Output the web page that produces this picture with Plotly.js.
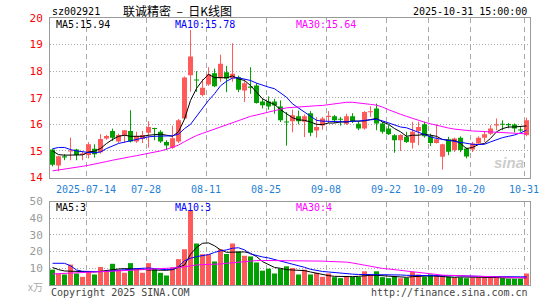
<!DOCTYPE html>
<html>
<head>
<meta charset="utf-8">
<script src="https://cdn.plot.ly/plotly-3.0.1.min.js"></script>
<style>html,body{margin:0;padding:0;background:#fff;}#chart{width:545px;height:300px;}</style>
</head>
<body>
<div id="chart"></div>
<script>
const dates = [
'2025-07-04','2025-07-07','2025-07-08','2025-07-09','2025-07-10','2025-07-11',
'2025-07-14','2025-07-15','2025-07-16','2025-07-17','2025-07-18',
'2025-07-21','2025-07-22','2025-07-23','2025-07-24','2025-07-25',
'2025-07-28','2025-07-29','2025-07-30','2025-07-31','2025-08-01',
'2025-08-04','2025-08-05','2025-08-06','2025-08-07','2025-08-08',
'2025-08-11','2025-08-12','2025-08-13','2025-08-14','2025-08-15',
'2025-08-18','2025-08-19','2025-08-20','2025-08-21','2025-08-22',
'2025-08-25','2025-08-26','2025-08-27','2025-08-28','2025-08-29',
'2025-09-01','2025-09-02','2025-09-03','2025-09-04','2025-09-05',
'2025-09-08','2025-09-09','2025-09-10','2025-09-11','2025-09-12',
'2025-09-15','2025-09-16','2025-09-17','2025-09-18','2025-09-19',
'2025-09-22','2025-09-23','2025-09-24','2025-09-25','2025-09-26',
'2025-09-29','2025-09-30',
'2025-10-09','2025-10-10','2025-10-13','2025-10-14','2025-10-15','2025-10-16','2025-10-17',
'2025-10-20','2025-10-21','2025-10-22','2025-10-23','2025-10-24',
'2025-10-27','2025-10-28','2025-10-29','2025-10-30','2025-10-31'];

const openP = [15.05,14.45,14.80,14.98,15.05,14.85,14.85,15.08,14.95,15.47,
 15.75,15.35,15.60,15.75,15.35,15.45,15.68,15.85,15.72,15.34,
 15.12,15.35,16.22,17.85,17.68,17.10,17.50,17.92,17.73,17.96,
 17.73,17.77,17.27,17.42,17.46,16.86,16.86,16.86,16.67,16.10,
 16.12,16.30,16.10,16.42,15.77,15.96,16.28,16.30,16.20,16.02,
 16.30,16.02,15.84,16.45,16.60,16.03,15.84,15.59,15.40,15.53,
 15.31,15.75,16.00,15.55,15.30,14.78,15.43,15.03,15.50,15.09,
 15.05,15.28,15.50,15.65,15.96,16.00,15.99,15.99,15.80,15.60];
const highP = [15.08,14.81,14.88,15.50,15.08,15.00,15.33,15.25,15.63,15.60,
 15.84,15.65,15.78,16.53,15.72,15.75,16.12,15.87,15.78,15.40,
 15.95,16.20,17.80,19.55,18.00,17.70,18.15,18.10,18.62,18.20,
 19.05,17.83,17.70,18.15,17.55,16.96,17.05,16.96,16.90,16.46,
 16.55,16.52,16.37,16.50,16.27,16.28,16.50,16.35,16.28,16.40,
 16.42,16.12,16.50,16.68,16.78,16.09,15.97,15.63,15.63,15.72,
 16.09,16.10,16.10,15.65,16.00,15.27,15.53,15.50,15.55,15.13,
 15.34,15.55,15.75,15.97,16.22,16.15,16.05,16.03,15.90,16.25];
const lowP = [14.42,14.23,14.65,14.65,14.65,14.65,14.72,14.75,14.90,15.42,
 15.37,15.30,15.30,15.32,15.30,15.30,15.12,15.40,15.30,15.03,
 15.08,15.30,16.20,17.23,17.22,17.05,17.45,17.40,17.60,17.21,
 17.60,17.21,16.84,17.15,16.78,16.60,16.55,16.40,16.09,15.20,
 15.70,16.00,15.52,15.55,15.50,15.80,16.05,16.05,15.95,15.98,
 16.05,15.78,15.80,16.28,15.78,15.65,15.60,14.93,15.00,15.30,
 15.09,15.21,15.50,15.18,15.28,14.30,14.84,14.96,14.95,14.72,
 14.96,15.22,15.33,15.60,15.78,15.78,15.85,15.70,15.72,15.55];
const closeP = [14.48,14.80,14.75,15.02,14.85,14.90,15.25,14.87,15.45,15.56,
 15.50,15.60,15.78,15.35,15.55,15.60,15.90,15.82,15.35,15.20,
 15.48,16.15,17.76,18.55,17.65,17.38,17.88,17.43,18.28,17.72,
 17.90,17.30,17.55,17.38,16.80,16.72,16.67,16.71,16.15,16.07,
 16.34,16.12,16.30,15.68,15.90,16.22,16.32,16.15,16.17,16.30,
 16.12,15.84,16.46,16.48,16.03,15.72,15.63,15.40,15.60,15.34,
 15.72,15.90,15.55,15.30,15.44,15.25,14.97,15.47,15.03,14.79,
 15.28,15.50,15.63,15.84,15.98,15.98,15.97,15.84,15.77,16.15];

const ma5 = [15.00,14.86,14.84,14.84,14.83,14.85,14.96,14.99,15.09,15.28,
 15.43,15.55,15.59,15.55,15.55,15.55,15.59,15.62,15.63,15.59,
 15.55,15.72,16.20,16.90,17.35,17.65,17.88,17.76,17.75,17.75,
 17.82,17.71,17.65,17.46,17.21,16.96,16.84,16.75,16.55,16.40,
 16.25,16.17,16.15,16.09,16.00,15.99,16.05,16.05,16.09,16.09,
 16.12,16.12,16.13,16.18,16.22,16.09,16.00,15.84,15.72,15.55,
 15.59,15.59,15.63,15.59,15.55,15.43,15.40,15.40,15.28,15.09,
 15.13,15.24,15.28,15.47,15.72,15.84,15.90,15.90,15.93,15.94];
const ma10 = [15.08,15.13,15.13,15.05,15.00,14.96,14.94,14.93,14.96,15.09,
 15.18,15.28,15.33,15.38,15.43,15.48,15.53,15.55,15.55,15.55,
 15.57,15.63,15.84,16.00,16.30,16.60,16.90,17.15,17.45,17.62,
 17.74,17.75,17.71,17.65,17.55,17.46,17.40,17.34,17.18,17.02,
 16.77,16.62,16.46,16.30,16.15,16.12,16.11,16.10,16.09,16.09,
 16.12,16.12,16.15,16.16,16.19,16.13,16.05,15.97,15.90,15.87,
 15.78,15.72,15.63,15.53,15.47,15.43,15.40,15.37,15.33,15.28,
 15.25,15.24,15.25,15.34,15.43,15.50,15.55,15.60,15.68,15.78];
const ma30 = [14.25,14.28,14.32,14.35,14.38,14.42,14.46,14.50,14.55,14.60,
 14.65,14.70,14.74,14.78,14.82,14.86,14.90,14.95,15.00,15.06,
 15.13,15.22,15.35,15.47,15.58,15.66,15.74,15.82,15.90,15.98,
 16.06,16.14,16.22,16.30,16.35,16.41,16.46,16.51,16.57,16.62,
 16.64,16.66,16.67,16.69,16.70,16.71,16.74,16.77,16.80,16.83,
 16.83,16.81,16.77,16.75,16.72,16.65,16.55,16.45,16.38,16.30,
 16.22,16.15,16.08,16.02,15.96,15.90,15.86,15.82,15.79,15.77,
 15.75,15.74,15.73,15.72,15.71,15.70,15.69,15.68,15.66,15.64];

const vol = [9.2,6.9,6.3,12.2,6.9,4.9,8.2,6.3,10.8,8.2,
 12.7,9.2,7.3,13.1,9.8,7.3,13.1,9.6,7.3,5.7,
 10.6,15.5,21.4,44.9,24.9,18.4,18.4,14.1,21.4,18.6,
 24.9,20.0,17.5,17.1,13.5,8.6,9.8,6.9,9.8,11.2,
 10.2,6.3,9.2,6.3,7.3,4.9,6.9,4.7,4.1,4.9,
 4.9,4.9,8.2,6.3,8.2,4.7,4.1,5.3,4.1,4.3,
 7.8,6.3,4.9,6.3,5.7,5.7,4.9,4.5,4.5,4.1,
 4.5,4.5,4.5,4.5,4.9,4.1,3.7,3.7,3.7,6.9];
const vma5 = [10.5,9.2,8.4,8.2,8.2,7.8,7.6,7.8,8.2,8.8,
 9.2,9.6,9.8,9.8,9.8,9.4,9.0,8.8,8.6,8.8,
 9.2,10.5,12.0,18.4,22.5,25.0,25.2,23.5,21.0,19.6,
 19.6,19.8,19.8,19.0,17.0,14.0,12.0,10.5,10.0,9.2,
 9.0,8.8,8.6,7.8,7.0,6.2,5.6,5.2,5.0,5.0,
 5.0,5.2,5.6,5.8,5.8,5.6,5.4,5.0,4.6,4.6,
 5.0,5.3,5.5,5.5,5.3,5.0,4.8,4.6,4.8,4.8,
 4.8,4.6,4.4,4.4,4.5,4.3,4.2,4.2,4.0,4.3];
const vma10 = [13.0,13.0,13.0,11.5,9.0,8.2,8.0,8.0,8.0,8.2,
 8.4,8.6,8.8,9.4,9.8,10.0,10.2,9.8,9.4,9.2,
 9.5,11.0,14.5,16.0,17.0,17.6,18.2,19.5,20.5,21.0,
 22.0,22.3,21.0,18.6,17.6,16.8,16.2,15.3,14.4,13.5,
 12.8,11.8,10.6,9.4,8.6,8.1,7.8,7.4,7.0,6.7,
 6.5,6.3,6.3,6.3,6.3,6.3,6.2,6.1,6.0,5.8,
 5.7,5.6,5.5,5.4,5.3,5.4,5.5,5.6,5.6,5.5,
 5.3,5.2,5.1,5.0,4.9,4.9,4.9,4.9,4.9,4.9];
const vma30 = [6.6,6.8,7.0,7.2,7.4,7.5,7.7,7.9,8.0,8.1,
 8.2,8.4,8.6,8.8,9.0,9.2,9.4,9.6,9.7,9.8,
 10.0,10.4,10.9,11.6,12.0,12.2,12.2,12.3,12.6,13.0,
 13.4,13.8,14.2,14.5,14.6,14.7,14.7,14.6,14.6,14.5,
 14.5,14.5,14.5,14.4,14.4,14.3,14.1,14.0,13.8,13.7,
 13.2,12.5,11.8,11.0,10.3,9.9,9.6,9.2,8.7,8.1,
 7.7,7.3,6.9,6.5,6.1,5.9,5.8,5.7,5.5,5.3,
 5.2,5.0,4.9,4.8,4.6,4.5,4.4,4.3,4.3,4.3];

const tickDates = ['2025-07-14','2025-07-28','2025-08-11','2025-08-25','2025-09-08','2025-09-22','2025-10-09','2025-10-20','2025-10-31'];
const tickText = ['2025-07-14','07-28','08-11','08-25','09-08','09-22','10-09','10-20','10-31'];
const priceTicks = [14,15,16,17,18,19,20];
const volTicks = [10,20,30,40,50];

// ---- rendering ----
const RED = '#ff5a5a', GREEN = '#00a000';
const MONO = 'DejaVu Sans Mono, monospace';
const idx = dates.map((d, i) => i);
const up = idx.map(i => closeP[i] >= openP[i]);
const tickVals = tickDates.map(d => dates.indexOf(d) - 0.42);

function wicks(flag) {
  const xs = [], ys = [];
  idx.forEach(i => { if (up[i] === flag) { xs.push(i, i, null); ys.push(lowP[i], highP[i], null); } });
  return {type:'scatter', mode:'lines', x:xs, y:ys, xaxis:'x', yaxis:'y',
    line:{color: flag ? RED : GREEN, width:1}, hoverinfo:'skip', connectgaps:false};
}
function bodies(flag) {
  const sel = idx.filter(i => up[i] === flag);
  return {type:'bar', x: sel, base: sel.map(i => Math.min(openP[i], closeP[i])),
    y: sel.map(i => Math.max(Math.abs(closeP[i] - openP[i]), 0.04)),
    width: 5/6, xaxis:'x', yaxis:'y', marker:{color: flag ? RED : GREEN, line:{width:0}}, hoverinfo:'skip'};
}
function line(y, color, xa, ya) {
  return {type:'scatter', mode:'lines', x: idx, y: y, xaxis: xa, yaxis: ya,
    line:{color: color, width:1}, hoverinfo:'skip'};
}

const traces = [
  wicks(true), wicks(false), bodies(true), bodies(false),
  {type:'bar', x: idx, y: vol, width: 5/6, xaxis:'x2', yaxis:'y2',
   marker:{color: idx.map(i => up[i] ? RED : GREEN), line:{width:0}}, hoverinfo:'skip'},
  line(ma5, '#000000', 'x', 'y'), line(ma10, '#0000ff', 'x', 'y'), line(ma30, '#ff00ff', 'x', 'y'),
  line(vma5, '#000000', 'x2', 'y2'), line(vma10, '#0000ff', 'x2', 'y2'), line(vma30, '#ff00ff', 'x2', 'y2')
];

const L = 50, W = 480, T = 18, B = 15, H = 300 - T - B;
const px = p => (p - L) / W;
const py = p => (300 - B - p) / H;

const gridX = {showgrid:true, gridcolor:'#a8a8a8', griddash:'5px,4px', gridwidth:1,
  showline:true, mirror:true, linecolor:'#9a9a9a', linewidth:1, zeroline:false, ticks:'',
  range:[-0.42, 79.58], tickmode:'array', tickvals: tickVals, ticktext: tickText, fixedrange:true};

function ann(text, x, y, color, anchor, size, family) {
  return {text: text, x: px(x), y: py(y), xref:'paper', yref:'paper', showarrow:false,
    xanchor: anchor, yanchor:'middle', font:{family: family || MONO, size: size || 10, color: color}};
}

const layout = {
  width:545, height:300, margin:{l:L, r:545 - L - W, t:T, b:B},
  paper_bgcolor:'#ffffff', plot_bgcolor:'#ffffff', showlegend:false, barmode:'overlay', hovermode:false,
  xaxis: Object.assign({}, gridX, {domain:[0,1], anchor:'y',
    tickfont:{family:MONO, size:10, color:'#1f7fd6'}, ticklabelstandoff:2}),
  yaxis: {domain:[(300 - B - 177.5) / H, 1], anchor:'x', range:[14,20], tickmode:'array', tickvals: priceTicks,
    showgrid:true, gridcolor:'#a8a8a8', griddash:'1px,2px', gridwidth:1,
    showline:true, mirror:true, linecolor:'#9a9a9a', linewidth:1, zeroline:false, ticks:'',
    tickfont:{family:MONO, size:11, color:'#ff0000'}, ticklabelstandoff:4, fixedrange:true},
  xaxis2: Object.assign({}, gridX, {domain:[0,1], anchor:'y2', showticklabels:false}),
  yaxis2: {domain:[0, (300 - B - 201.5) / H], anchor:'x2', range:[0,50], tickmode:'array', tickvals: volTicks,
    showgrid:true, gridcolor:'#a8a8a8', griddash:'1px,2px', gridwidth:1,
    showline:true, mirror:true, linecolor:'#9a9a9a', linewidth:1, zeroline:false, ticks:'',
    tickfont:{family:MONO, size:11, color:'#999999'}, ticklabelstandoff:4, fixedrange:true},
  annotations: [
    ann('sz002921', 50, 11.5, '#000000', 'left', 10),
    ann('联诚精密\u00a0\u00a0–\u00a0\u00a0日K线图', 121, 11, '#000000', 'left', 12, 'Noto Sans CJK SC'),
    ann('2025-10-31 15:00:00', 529, 11.5, '#000000', 'right', 10),
    ann('MA5:15.94', 54, 24, '#000000', 'left', 10),
    ann('MA10:15.78', 173, 24, '#0000ff', 'left', 10),
    ann('MA30:15.64', 294, 24, '#ff00ff', 'left', 10),
    ann('MA5:3', 54, 207, '#000000', 'left', 10),
    ann('MA10:3', 173, 207, '#0000ff', 'left', 10),
    ann('MA30:4', 294, 207, '#ff00ff', 'left', 10),
    ann('x万', 45, 286, '#aaaaaa', 'right', 10, 'Noto Sans CJK SC'),
    ann('Copyright 2025 SINA.COM', 49, 292, '#444444', 'left', 10),
    ann('http://finance.sina.com.cn', 530, 292, '#444444', 'right', 10),
    ann('<b><i>sina</i></b>', 526, 162, 'rgba(190,190,190,0.8)', 'right', 15, 'Liberation Sans')
  ]
};

Plotly.newPlot('chart', traces, layout, {displayModeBar:false, staticPlot:true});
</script>
</body>
</html>
